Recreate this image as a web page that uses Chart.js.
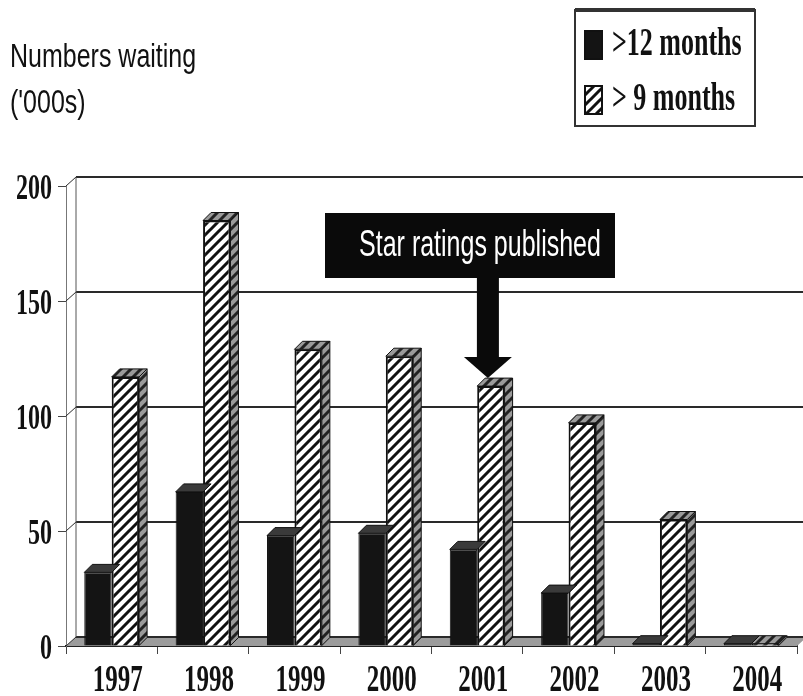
<!DOCTYPE html>
<html>
<head>
<meta charset="utf-8">
<script src="https://cdn.jsdelivr.net/npm/chart.js@4.4.1/dist/chart.umd.min.js"></script>
<style>
  html, body { margin: 0; padding: 0; background: #fff; }
  #wrap { width: 803px; height: 696px; position: relative; }
</style>
</head>
<body>
<div id="wrap"><canvas id="waitChart" width="803" height="696"></canvas></div>
<script>
// data ('000s)
const years = ['1997', '1998', '1999', '2000', '2001', '2002', '2003', '2004'];
const over12 = [32, 67, 48, 49, 42, 23, 1, 1];
const over9 = [117, 185, 129, 126, 113, 97, 55, 1];
const yTicks = [0, 50, 100, 150, 200];
const seriesNames = ['>12 months', '> 9 months'];
const note = 'Star ratings published';
const noteYear = '2001';

// 3d depth of the plot and of the bars
const wallDx = 10, wallDy = 9;
const barDx = 8, barDy = 8;
// the scanned original is stretched vertically, so text is too
const stretch = 1.5;
const serif = '"Liberation Serif", "Times New Roman", serif';
const sans = '"Liberation Sans", Arial, sans-serif';

function hatch(bg, fg) {
  const c = document.createElement('canvas');
  c.width = c.height = 10;
  const g = c.getContext('2d');
  g.fillStyle = bg;
  g.fillRect(0, 0, 10, 10);
  g.strokeStyle = fg;
  g.lineWidth = 3;
  g.beginPath();
  g.moveTo(0, 10); g.lineTo(10, 0);
  g.moveTo(-5, 5); g.lineTo(5, -5);
  g.moveTo(5, 15); g.lineTo(15, 5);
  g.stroke();
  return g.createPattern(c, 'repeat');
}
const hatchFront = hatch('#ffffff', '#111111');
const hatchShade = hatch('#9a9a9a', '#222222');

function tallText(ctx, text, x, y, font, align, sy, color) {
  ctx.save();
  ctx.translate(x, y);
  ctx.scale(1, sy);
  ctx.font = font;
  ctx.textAlign = align;
  ctx.textBaseline = 'middle';
  ctx.fillStyle = color || '#111';
  ctx.fillText(text, 0, 0);
  ctx.restore();
}

const chart3d = {
  id: 'chart3d',
  beforeDatasetsDraw(chart) {
    const { ctx, chartArea: a, scales: { y } } = chart;
    ctx.save();
    // floor
    ctx.fillStyle = '#9c9c9c';
    ctx.beginPath();
    ctx.moveTo(a.left, a.bottom);
    ctx.lineTo(a.right, a.bottom);
    ctx.lineTo(a.right + wallDx, a.bottom - wallDy);
    ctx.lineTo(a.left + wallDx, a.bottom - wallDy);
    ctx.closePath();
    ctx.fill();
    // back wall gridlines + side wall diagonals
    ctx.strokeStyle = '#2a2a2a';
    yTicks.forEach(v => {
      const py = y.getPixelForValue(v);
      ctx.lineWidth = 2;
      ctx.beginPath();
      ctx.moveTo(a.left + wallDx, py - wallDy);
      ctx.lineTo(a.right + wallDx, py - wallDy);
      ctx.stroke();
      ctx.lineWidth = 1;
      ctx.beginPath();
      ctx.moveTo(a.left, py);
      ctx.lineTo(a.left + wallDx, py - wallDy);
      ctx.stroke();
    });
    ctx.strokeStyle = '#555';
    ctx.beginPath();
    ctx.moveTo(a.left + wallDx, a.top - wallDy);
    ctx.lineTo(a.left + wallDx, a.bottom - wallDy);
    ctx.stroke();
    ctx.restore();
  },
  afterDatasetDraw(chart, args) {
    const { ctx } = chart;
    ctx.save();
    args.meta.data.forEach(bar => {
      const { x, y, base, width } = bar.getProps(['x', 'y', 'base', 'width'], true);
      const l = x - width / 2, r = x + width / 2;
      // top face
      ctx.beginPath();
      ctx.moveTo(l, y);
      ctx.lineTo(r, y);
      ctx.lineTo(r + barDx, y - barDy);
      ctx.lineTo(l + barDx, y - barDy);
      ctx.closePath();
      ctx.fillStyle = args.index === 0 ? '#3a3a3a' : hatchShade;
      ctx.fill();
      ctx.strokeStyle = '#111';
      ctx.lineWidth = 1;
      ctx.stroke();
      // right side face (the dark bar's side is hidden by its neighbour)
      if (args.index === 1) {
        ctx.beginPath();
        ctx.moveTo(r, y);
        ctx.lineTo(r + barDx, y - barDy);
        ctx.lineTo(r + barDx, base - barDy);
        ctx.lineTo(r, base);
        ctx.closePath();
        ctx.fillStyle = hatchShade;
        ctx.fill();
        ctx.stroke();
      }
    });
    ctx.restore();
  },
  afterDraw(chart) {
    const { ctx, scales: { x, y } } = chart;
    ctx.save();

    // tick labels
    y.ticks.forEach((t, i) => {
      tallText(ctx, String(t.value), 52, y.getPixelForTick(i) + 4, 'bold 24px ' + serif, 'right', stretch);
    });
    x.ticks.forEach((t, i) => {
      tallText(ctx, years[t.value], x.getPixelForTick(i) + 6, 681, 'bold 25px ' + serif, 'center', stretch);
    });

    // axis title
    tallText(ctx, 'Numbers waiting', 10, 58, '25px ' + sans, 'left', 1.3);
    tallText(ctx, "('000s)", 10, 104, '25px ' + sans, 'left', 1.3);

    // legend
    ctx.strokeStyle = '#333';
    ctx.lineWidth = 2;
    ctx.strokeRect(575, 10, 180, 116);
    ctx.fillStyle = '#333';
    ctx.fillRect(575, 8, 180, 4);
    const rows = [45, 100];
    chart.data.datasets.forEach((d, i) => {
      const cy = rows[i];
      ctx.fillStyle = d.backgroundColor;
      ctx.fillRect(585, cy - 14, 17, 28);
      ctx.strokeStyle = '#111';
      ctx.lineWidth = 2;
      ctx.strokeRect(585, cy - 14, 17, 28);
      tallText(ctx, d.label, 612, cy, 'bold 26px ' + serif, 'left', stretch);
    });

    // star ratings note with arrow to the bar
    const bar = chart.getDatasetMeta(1).data[years.indexOf(noteYear)];
    const ax = bar.x - 3;
    const tip = bar.y - 8;
    ctx.fillStyle = '#0a0a0a';
    ctx.fillRect(325, 213, 290, 65);
    ctx.fillRect(ax - 11, 277, 22, tip - 20 - 277);
    ctx.beginPath();
    ctx.moveTo(ax - 24, tip - 21);
    ctx.lineTo(ax + 24, tip - 21);
    ctx.lineTo(ax, tip);
    ctx.closePath();
    ctx.fill();
    tallText(ctx, note, 480, 246, '25px ' + sans, 'center', stretch, '#fff');
    ctx.restore();
  }
};

new Chart(document.getElementById('waitChart').getContext('2d'), {
  type: 'bar',
  data: {
    labels: years,
    datasets: [
      {
        label: seriesNames[0],
        data: over12,
        backgroundColor: '#141414',
        borderColor: '#111',
        borderWidth: 1,
        categoryPercentage: 0.6,
        barPercentage: 1.0
      },
      {
        label: seriesNames[1],
        data: over9,
        backgroundColor: hatchFront,
        borderColor: '#111',
        borderWidth: 2,
        categoryPercentage: 0.6,
        barPercentage: 1.0
      }
    ]
  },
  options: {
    responsive: false,
    animation: false,
    layout: { padding: { top: 186, right: 6, left: 0, bottom: 0 } },
    scales: {
      x: {
        grid: { drawOnChartArea: false, tickLength: 8, color: '#444', offset: true },
        border: { display: true, color: '#222', width: 2 },
        ticks: { display: false },
        afterFit(scale) { scale.height = 50; }
      },
      y: {
        min: 0,
        max: 200,
        grid: { drawOnChartArea: false, tickLength: 8, color: '#444' },
        border: { display: true, color: '#777', width: 1 },
        ticks: { display: false, stepSize: 50 },
        afterFit(scale) { scale.width = 66; }
      }
    },
    plugins: {
      legend: { display: false },
      tooltip: { enabled: false }
    }
  },
  plugins: [chart3d]
});
</script>
</body>
</html>
